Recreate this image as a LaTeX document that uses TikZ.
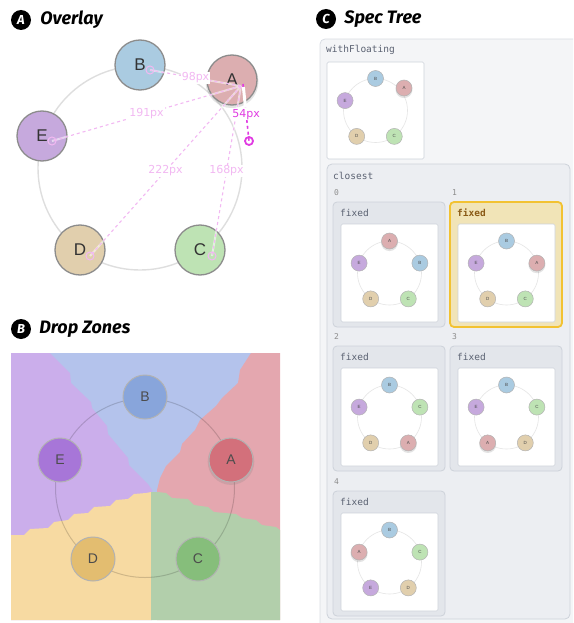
\documentclass[tikz,border=0pt]{standalone}
\usepackage{fontspec}
\setmainfont{Liberation Sans}
\newfontfamily\headfont{Fira Sans}
\newfontfamily\distfont{DejaVu Sans}
\setmonofont{DejaVu Sans Mono}
\usetikzlibrary{positioning, calc, shadows}
\definecolor{cA}{HTML}{DCAEB0}
\definecolor{cB}{HTML}{AACBE1}
\definecolor{cC}{HTML}{BEE3B4}
\definecolor{cD}{HTML}{E1CFAD}
\definecolor{cE}{HTML}{C6A9DD}
\definecolor{zA}{HTML}{E4A7AF}
\definecolor{zB}{HTML}{B4C3EC}
\definecolor{zC}{HTML}{B2CFAB}
\definecolor{zD}{HTML}{F7DAA2}
\definecolor{zE}{HTML}{CBAEEB}
\definecolor{dA}{HTML}{D3707B}
\definecolor{dB}{HTML}{88A5DB}
\definecolor{dC}{HTML}{86BE7B}
\definecolor{dD}{HTML}{E3BD70}
\definecolor{dE}{HTML}{A776D8}
\definecolor{guideC}{HTML}{F2B8F2}
\definecolor{dragC}{HTML}{E03CE2}
\definecolor{treebg}{HTML}{F4F5F7}
\definecolor{treeline}{HTML}{D9DDE3}
\definecolor{groupbg}{HTML}{ECEEF2}
\definecolor{cardbg}{HTML}{E3E6EB}
\definecolor{cardline}{HTML}{CDD2DA}
\definecolor{hlbg}{HTML}{F1E4B7}
\definecolor{hlline}{HTML}{F2C232}
\definecolor{hltext}{HTML}{8A5A16}
\definecolor{spectext}{HTML}{5B6272}

% mini layout: top, right, left, bottom-left, bottom-right
\newcommand{\minispec}[7]{%
  \draw[minring] (#2) circle[radius=32];
  \node[mini, m#3] (#1t) at ($(#2)+(0,-32)$) {#3};
  \node[mini, m#4] (#1r) at ($(#2)+(30.4,-9.9)$) {#4};
  \node[mini, m#5] (#1l) at ($(#2)+(-30.4,-9.9)$) {#5};
  \node[mini, m#6] (#1bl) at ($(#2)+(-18.8,25.9)$) {#6};
  \node[mini, m#7] (#1br) at ($(#2)+(18.8,25.9)$) {#7};
}
\newcommand{\speccard}[3]{%
  \draw[#3] (#2) rectangle ++(112,125);
  \node[fixedtag, #3 text] (#1tag) at ($(#2)+(7,11)$) {fixed};
  \draw[canvas] ($(#2)+(8,22)$) rectangle ++(97,98);
  \coordinate (#1c) at ($(#2)+(56.5,71)$);
}

\begin{document}
\begin{tikzpicture}[x=1pt, y=-1pt,
    badge/.style={circle, fill=black, text=white, minimum size=20pt, inner sep=0pt,
      font=\headfont\bfseries\itshape\fontsize{13}{13}\selectfont},
    title/.style={anchor=west, inner sep=0pt, font=\headfont\bfseries\itshape\fontsize{18}{18}\selectfont},
    ball/.style={circle, minimum size=50pt, inner sep=0pt, draw=black!45, line width=1.3pt,
      text=black!80, font=\fontsize{17}{17}\selectfont},
    zball/.style={circle, minimum size=44pt, inner sep=0pt, draw=black!30, line width=1pt,
      text=black!70, font=\fontsize{14}{14}\selectfont},
    glow/.style={drop shadow={shadow xshift=0pt, shadow yshift=-1.5pt, shadow scale=1.06, opacity=.22}},
    ring/.style={draw=black!13, line width=1.4pt},
    zonering/.style={draw=black, draw opacity=.16, line width=1pt},
    guide/.style={draw=guideC, dashed, line width=1.1pt},
    guideunder/.style={draw=white, draw opacity=.55, line width=2pt},
    dist/.style={fill=white, inner sep=1pt, text=guideC, font=\distfont\fontsize{11}{11}\selectfont},
    minring/.style={draw=black!10, line width=.6pt},
    mini/.style={circle, minimum size=16pt, inner sep=0pt, draw=black!30, line width=.5pt,
      text=black!70, font=\fontsize{4.5}{5}\selectfont},
    mA/.style={fill=cA, glow}, mB/.style={fill=cB}, mC/.style={fill=cC},
    mD/.style={fill=cD}, mE/.style={fill=cE},
    spec/.style={anchor=west, inner sep=0pt, text=spectext, font=\ttfamily\fontsize{9.5}{10}\selectfont},
    idx/.style={anchor=west, inner sep=0pt, text=black!45, font=\ttfamily\fontsize{8}{8}\selectfont},
    canvas/.style={fill=white, draw=cardline, line width=.6pt, rounded corners=1.5pt},
    card/.style={fill=cardbg, draw=cardline, line width=.8pt, rounded corners=4pt},
    hlcard/.style={fill=hlbg, draw=hlline, line width=1.8pt, rounded corners=4pt},
    fixedtag/.style={anchor=west, inner sep=0pt, font=\ttfamily\fontsize{9.5}{10}\selectfont},
    card text/.style={text=spectext},
    hlcard text/.style={text=hltext, font=\ttfamily\bfseries\fontsize{9.5}{10}\selectfont}]
  \useasboundingbox (0,0) rectangle (573,623);
  \clip (0,0) rectangle (573,623);

  % A: overlay
  \node[badge] (bA) at (21,20) {A};
  \node[title, right=9pt of bA] (tA) {Overlay};
  \draw[ring] (140,168) circle[radius=102];
  \node[ball, fill=cB] (oB) at (140,65) {B};
  \node[ball, fill=cE] (oE) at (42,136) {E};
  \node[ball, fill=cD] (oD) at (80,250) {D};
  \node[ball, fill=cC] (oC) at (200,250) {C};
  \node[ball, fill=cA, glow] (oA) at (232,80) {A};
  \coordinate (hub) at (241,86);
  \coordinate (hB) at (150,70);
  \coordinate (hE) at (52,141);
  \coordinate (hD) at (90,256);
  \coordinate (hC) at (212,256);
  \foreach \n in {B,E,D,C}
    \draw[guideunder] (hub) -- (h\n);
  \foreach \n/\d in {B/98px, E/191px, D/222px, C/168px} {
    \draw[guide] (hub) -- node[dist] {\d} (h\n);
    \draw[guideC, line width=1pt] (h\n) circle[radius=4];
  }
  \coordinate (grab) at (243,84);
  \coordinate (drop) at (249,141);
  \draw[dragC, dashed, line width=1.6pt] (grab) -- (drop);
  \draw[white, line width=3pt] (grab) ++(0.4,3) -- ($(grab)!0.38!(drop)$);
  \node[dist, text=dragC] (d54) at ($(grab)!0.53!(drop)$) {54px};
  \draw[dragC, line width=1.8pt] (drop) circle[radius=4];

  % B: drop zones
  \node[badge] (bB) at (21,329) {B};
  \node[title, right=8pt of bB] (tB) {Drop Zones};
  \fill[zB] (11,353) rectangle (280,620);
  \fill[zE] (11,353) -- (50,353) -- (70,373) -- (71,383) -- (91,402) -- (92,408) -- (107,426)
    -- (108,434) -- (128,458) -- (129,465) -- (148,484) -- (152,490) -- (152,620) -- (11,620) -- cycle;
  \fill[zA] (280,353) -- (251,353) -- (240,370) -- (238,383) -- (222,398) -- (216,406) -- (200,420)
    -- (195,430) -- (182,444) -- (180,452) -- (166,466) -- (160,478) -- (157,490) -- (157,620) -- (280,620) -- cycle;
  \fill[zD] (11,620) -- (11,535) -- (24,535) -- (30,529) -- (48,528) -- (54,522) -- (68,520) -- (74,514)
    -- (88,513) -- (94,507) -- (110,506) -- (116,500) -- (128,499) -- (134,494) -- (146,493) -- (151,492)
    -- (151,620) -- cycle;
  \fill[zC] (151,620) -- (151,492) -- (158,492) -- (166,493) -- (172,498) -- (188,499) -- (194,505)
    -- (208,507) -- (214,512) -- (236,514) -- (242,518) -- (256,520) -- (262,525) -- (276,527)
    -- (280,530) -- (280,620) -- cycle;
  \draw[zonering] (145,488) circle[radius=89.5];
  \node[zball, fill=dB] (zoneB) at (145,397) {B};
  \node[zball, fill=dE] (zoneE) at (60,460) {E};
  \node[zball, fill=dD] (zoneD) at (93,559) {D};
  \node[zball, fill=dC] (zoneC) at (198,559) {C};
  \node[zball, fill=dA, glow] (zoneA) at (231,460) {A};

  % C: spec tree
  \node[badge] (bC) at (326,19) {C};
  \node[title, right=8pt of bC] (tC) {Spec Tree};
  \draw[fill=treebg, draw=treeline, line width=.8pt, rounded corners=5pt] (320,39) rectangle (590,640);
  \node[spec] (wf) at (326,50) {withFloating};
  \draw[canvas] (327,62) rectangle (424,159);
  \coordinate (wfc) at (375.5,110.5);
  \draw[minring] (wfc) circle[radius=32];
  \node[mini, mB] (wfB) at ($(wfc)+(0,-32)$) {B};
  \node[mini, mE] (wfE) at ($(wfc)+(-30.4,-9.9)$) {E};
  \node[mini, mD] (wfD) at ($(wfc)+(-18.8,25.9)$) {D};
  \node[mini, mC] (wfC) at ($(wfc)+(18.8,25.9)$) {C};
  \node[mini, mA] (wfA) at (404,88) {A};

  \draw[fill=groupbg, draw=cardline, line width=.8pt, rounded corners=5pt] (327,164) rectangle (570,619);
  \node[spec] (cl) at (333,176) {closest};
  \foreach \k/\x/\y in {0/334/193, 1/452/193, 2/334/337, 3/452/337, 4/334/482}
    \node[idx] (i\k) at (\x,\y) {\k};

  \speccard{k0}{333,202}{card}
  \minispec{k0}{k0c}{A}{B}{E}{D}{C}
  \speccard{k1}{450,202}{hlcard}
  \minispec{k1}{k1c}{B}{A}{E}{D}{C}
  \speccard{k2}{333,346}{card}
  \minispec{k2}{k2c}{B}{C}{E}{D}{A}
  \speccard{k3}{450,346}{card}
  \minispec{k3}{k3c}{B}{C}{E}{A}{D}
  \speccard{k4}{333,491}{card}
  \minispec{k4}{k4c}{B}{C}{A}{E}{D}
\end{tikzpicture}
\end{document}
